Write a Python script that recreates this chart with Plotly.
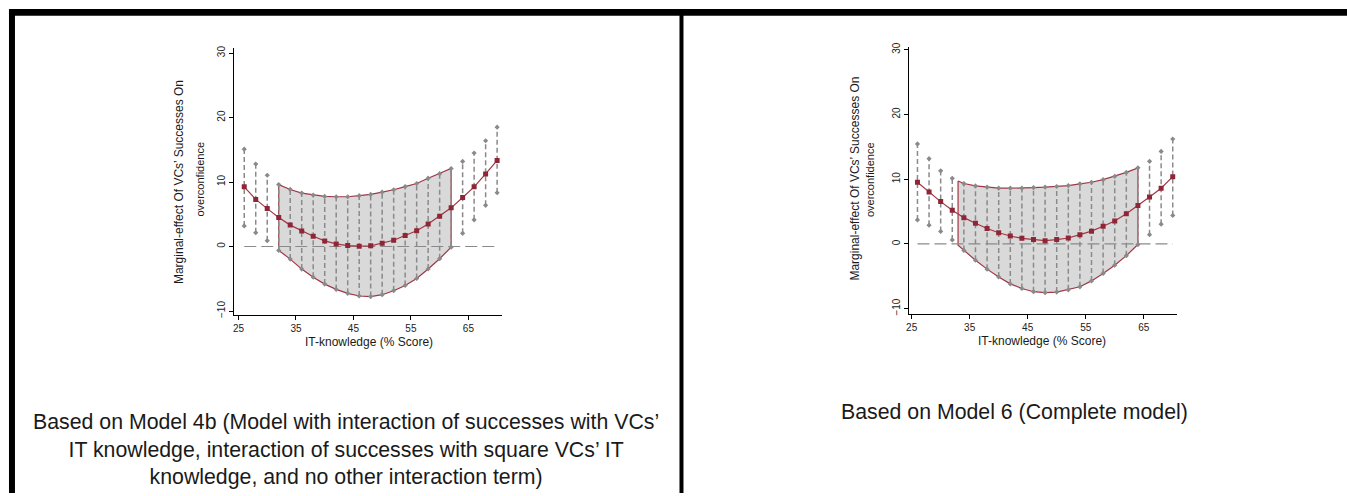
import numpy as np
import plotly.graph_objects as go

# ---------------- data ----------------
it_knowledge = [26, 28, 30, 32, 34, 36, 38, 40, 42, 44, 46, 48, 50, 52, 54, 56, 58, 60, 62, 64, 66, 68, 70]

# Model 4b
m4_est = [9.26, 7.31, 5.88, 4.5, 3.32, 2.4, 1.59, 0.87, 0.41, 0.15, 0.05, 0.1, 0.5, 0.97, 1.7, 2.45, 3.5, 4.7, 6.0, 7.6, 9.26, 11.25, 13.35]
m4_hi = [15.1, 12.8, 11.05, 9.6, 8.85, 8.29, 7.98, 7.77, 7.72, 7.72, 7.88, 8.08, 8.44, 8.8, 9.3, 9.77, 10.6, 11.3, 12.1, 13.2, 14.5, 16.4, 18.5]
m4_lo = [3.2, 2.15, 0.9, -0.6, -1.95, -3.5, -4.75, -5.83, -6.65, -7.26, -7.67, -7.77, -7.47, -6.85, -6.04, -4.96, -3.48, -1.89, -0.1, 2.05, 4.14, 6.39, 8.34]
m4_shade = [32, 62]

# Model 6
m6_est = [9.52, 8.0, 6.53, 5.2, 4.05, 3.19, 2.38, 1.72, 1.22, 0.86, 0.66, 0.5, 0.66, 0.91, 1.42, 1.97, 2.73, 3.54, 4.66, 5.92, 7.24, 8.6, 10.38]
m6_hi = [15.44, 13.16, 11.29, 10.13, 9.32, 8.96, 8.76, 8.6, 8.6, 8.6, 8.7, 8.76, 8.86, 9.0, 9.27, 9.52, 9.92, 10.43, 11.04, 11.75, 12.76, 14.28, 16.2]
m6_lo = [3.7, 2.89, 1.92, 0.61, -1.01, -2.53, -3.9, -5.11, -6.18, -6.89, -7.39, -7.54, -7.44, -7.09, -6.63, -5.72, -4.56, -3.29, -1.82, -0.1, 1.42, 3.04, 4.4]
m6_shade = [33, 64]

x_ticks = [25, 35, 45, 55, 65]
y_ticks = [-10, 0, 10, 20, 30]

y_title_1 = "Marginal-effect Of VCs’ Successes On"
y_title_2 = "overconfidence"
x_title = "IT-knowledge (% Score)"
caption_left = ("Based on Model 4b (Model with interaction of successes with VCs’<br>"
                "IT knowledge, interaction of successes with square VCs’ IT<br>"
                "knowledge, and no other interaction term)")
caption_right = "Based on Model 6 (Complete model)"

# ---------------- style ----------------
W, H = 1347, 496
RED = "#a23646"
RED_M = "#8e2636"
GRAY = "#8a8a8a"
FILL = "#d9d9d9"
FONT = "Liberation Sans, Arial, sans-serif"

fig = go.Figure()


def add_panel(xa, ya, est, hi, lo, shade):
    x = np.array(it_knowledge, dtype=float)
    est = np.array(est); hi = np.array(hi); lo = np.array(lo)
    # shaded (non-significant) region
    inner = x[(x > shade[0]) & (x < shade[1])]
    xs = np.concatenate([[shade[0]], inner, [shade[1]]])
    up = np.interp(xs, x, hi)
    dn = np.interp(xs, x, lo)
    fig.add_trace(go.Scatter(
        x=np.concatenate([xs, xs[::-1], [xs[0]]]),
        y=np.concatenate([up, dn[::-1], [up[0]]]),
        mode="lines", fill="toself", fillcolor=FILL,
        line=dict(color=RED, width=1.2), xaxis=xa, yaxis=ya,
        hoverinfo="skip", showlegend=False))
    # zero reference line
    fig.add_trace(go.Scatter(
        x=[x[0], x[-1]], y=[0, 0], mode="lines",
        line=dict(color=GRAY, width=1.2, dash="12px,5px"),
        xaxis=xa, yaxis=ya, hoverinfo="skip", showlegend=False))
    # CI spikes
    vx, vy = [], []
    for xi, h, l in zip(x, hi, lo):
        vx += [xi, xi, None]
        vy += [l, h, None]
    fig.add_trace(go.Scatter(
        x=vx, y=vy, mode="lines",
        line=dict(color=GRAY, width=1.5, dash="5px,3px"),
        xaxis=xa, yaxis=ya, hoverinfo="skip", showlegend=False))
    fig.add_trace(go.Scatter(
        x=np.concatenate([x, x]), y=np.concatenate([hi, lo]), mode="markers",
        marker=dict(color=GRAY, size=4, symbol="diamond"),
        xaxis=xa, yaxis=ya, showlegend=False))
    # estimate
    fig.add_trace(go.Scatter(
        x=x, y=est, mode="lines+markers",
        line=dict(color=RED, width=1.2),
        marker=dict(color=RED_M, size=5, symbol="square"),
        xaxis=xa, yaxis=ya, showlegend=False))


add_panel("x", "y", m4_est, m4_hi, m4_lo, m4_shade)
add_panel("x2", "y2", m6_est, m6_hi, m6_lo, m6_shade)


def px(v):
    return v / W


def py(v):
    return 1 - v / H


axis_common = dict(showgrid=False, zeroline=False, showline=True, linecolor="black",
                   linewidth=1, ticks="outside", ticklen=4, tickcolor="black",
                   tickfont=dict(family=FONT, size=10, color="#222"), fixedrange=True)

fig.update_layout(
    width=W, height=H, margin=dict(l=0, r=0, t=0, b=0),
    paper_bgcolor="white", plot_bgcolor="white", showlegend=False,
    xaxis=dict(domain=[px(231.7), px(500)], range=[24.25, 70.83], tickvals=x_ticks,
               anchor="y", **axis_common),
    yaxis=dict(domain=[py(315), py(45)], range=[-10.55, 30.73], tickvals=y_ticks,
               tickangle=-90, anchor="x", **axis_common),
    xaxis2=dict(domain=[px(908.3), px(1177)], range=[24.59, 70.8], tickvals=x_ticks,
                anchor="y2", **axis_common),
    yaxis2=dict(domain=[py(314.3), py(43.3)], range=[-10.81, 30.46], tickvals=y_ticks,
                tickangle=-90, anchor="x2", **axis_common),
)

ann = []
def text(xp, yp, t, size, angle=0):
    ann.append(dict(x=px(xp), y=py(yp), xref="paper", yref="paper", text=t,
                    showarrow=False, textangle=angle, xanchor="center", yanchor="middle",
                    font=dict(family=FONT, size=size, color="#1a1a1a")))

text(177, 181, y_title_1, 12, -90)
text(197, 177.5, y_title_2, 11, -90)
text(366.6, 342.5, x_title, 12)
text(853, 177, y_title_1, 12, -90)
text(869, 178.5, y_title_2, 11, -90)
text(1041.7, 341.7, x_title, 12)
text(344, 452, caption_left, 21.3)
text(1014, 414, caption_right, 21.3)
fig.update_layout(annotations=ann)

# page frame lines
shapes = [
    dict(type="rect", x0=px(6), x1=1, y0=py(12), y1=py(5)),
    dict(type="rect", x0=px(6), x1=px(12), y0=0, y1=py(5)),
    dict(type="rect", x0=px(678), x1=px(682), y0=0, y1=py(5)),
]
for s in shapes:
    s.update(xref="paper", yref="paper", fillcolor="black", line=dict(width=0), layer="above")
fig.update_layout(shapes=shapes)

fig.write_html("out.html", config={"displayModeBar": False},
               post_script="document.body.style.margin='0';document.body.style.padding='0';"
                           "document.documentElement.style.overflow='hidden';")
